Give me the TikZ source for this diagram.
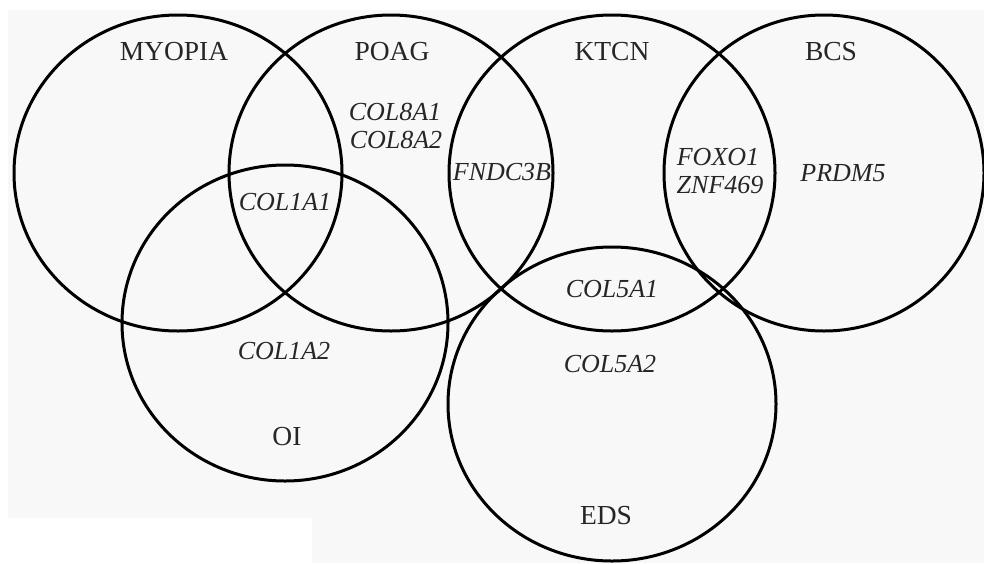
\documentclass[tikz,border=0pt]{standalone}
\usepackage{fontspec}
\setmainfont{Liberation Serif}
\definecolor{bgc}{HTML}{F8F8F8}
\definecolor{txt}{HTML}{262626}
\begin{document}
\begin{tikzpicture}[x=1pt,y=-1pt,
  ring/.style={draw=black,line width=3pt},
  setlabel/.style={inner sep=0pt,text=txt,font=\fontsize{27.5}{30}\selectfont},
  gene/.style={inner sep=0pt,text=txt,font=\fontsize{26}{28}\selectfont\itshape,align=center}]
\useasboundingbox (0,0) rectangle (984,563);
\fill[bgc] (8,10) -- (984,10) -- (984,563) -- (312,563) -- (312,518) -- (8,518) -- cycle;
% sets
\draw[ring] (178,173) ellipse [x radius=164pt, y radius=158pt];
\draw[ring] (391,173) ellipse [x radius=162pt, y radius=158pt];
\draw[ring] (612,173) ellipse [x radius=163pt, y radius=158pt];
\draw[ring] (824,173) ellipse [x radius=160pt, y radius=158pt];
\draw[ring] (285,323) ellipse [x radius=163pt, y radius=158pt];
\draw[ring] (612,404) ellipse [x radius=164pt, y radius=157pt];
% set names
\node[setlabel] (myopia) at (174,52) {MYOPIA};
\node[setlabel] (poag) at (392,52) {POAG};
\node[setlabel] (ktcn) at (612,52) {KTCN};
\node[setlabel] (bcs) at (831,52) {BCS};
\node[setlabel] (oi) at (287,437) {OI};
\node[setlabel] (eds) at (606,516) {EDS};
% genes
\node[gene] (col8a1) at (395,112) {COL8A1};
\node[gene] (col8a2) at (396,140) {COL8A2};
\node[gene] (fndc3b) at (502,172) {FNDC3B};
\node[gene] (foxo1) at (718,157) {FOXO1};
\node[gene] (znf469) at (720,185) {ZNF469};
\node[gene] (prdm5) at (843,173) {PRDM5};
\node[gene] (col1a1) at (285,202) {COL1A1};
\node[gene] (col1a2) at (284,351) {COL1A2};
\node[gene] (col5a1) at (612,289) {COL5A1};
\node[gene] (col5a2) at (610,364) {COL5A2};
\end{tikzpicture}
\end{document}
